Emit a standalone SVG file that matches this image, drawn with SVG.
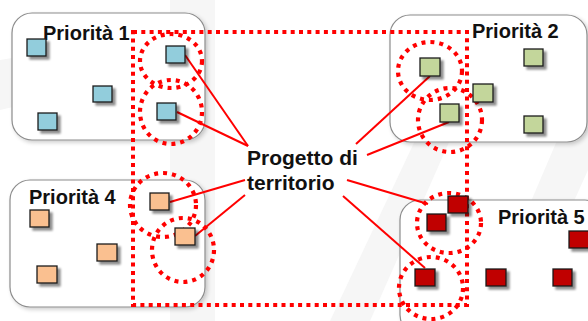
<svg xmlns="http://www.w3.org/2000/svg" width="588" height="321" viewBox="0 0 588 321">
<defs>
<filter id="sh" x="-30%" y="-30%" width="170%" height="170%">
<feGaussianBlur in="SourceAlpha" stdDeviation="1"/>
<feOffset dx="2.5" dy="2.5" result="o"/>
<feComponentTransfer><feFuncA type="linear" slope="0.45"/></feComponentTransfer>
<feMerge><feMergeNode/><feMergeNode in="SourceGraphic"/></feMerge>
</filter>
<filter id="bsh" x="-10%" y="-10%" width="120%" height="120%">
<feGaussianBlur in="SourceAlpha" stdDeviation="2"/>
<feOffset dx="1.5" dy="2" result="o"/>
<feComponentTransfer><feFuncA type="linear" slope="0.2"/></feComponentTransfer>
<feMerge><feMergeNode/><feMergeNode in="SourceGraphic"/></feMerge>
</filter>
</defs>
<style>
.box{fill:#ffffff;stroke:#8c8c8c;stroke-width:1.2}
.t{font-family:"Liberation Sans",Arial,sans-serif;font-weight:bold;font-size:20px;fill:#111}
.c{font-family:"Liberation Sans",Arial,sans-serif;font-weight:bold;font-size:21px;fill:#111}
.sq{stroke:#1a1a1a;stroke-width:1.3}
.b{fill:#92CDDC}.g{fill:#C3D69B}.o{fill:#FAC090}.r{fill:#C00000}
.dr{fill:none;stroke:#ff0000;stroke-width:4;stroke-dasharray:4 4.3}
.de{fill:none;stroke:#ff0000;stroke-width:4.2;stroke-dasharray:4 5}
.ln{stroke:#ff0000;stroke-width:2;fill:none}
</style>
<rect width="588" height="321" fill="#ffffff"/>
<g id="watermark" fill="#f6f6f6">
<polygon points="170,0 215,0 215,321 170,321"/>
<polygon points="0,60 120,40 130,80 0,110"/>
<polygon points="330,321 420,130 450,140 370,321"/>
<polygon points="480,321 570,110 588,120 588,170 520,321"/>
</g>
<g id="p1">
<rect class="box" x="12" y="13" width="193" height="127" rx="20" filter="url(#bsh)"/>
<text class="t" x="43" y="40">Priorità 1</text>
</g>
<g id="p2">
<rect class="box" x="390" y="15" width="197" height="127" rx="20" filter="url(#bsh)"/>
<text class="t" x="472" y="38">Priorità 2</text>
</g>
<g id="p4">
<rect class="box" x="10" y="180" width="195" height="127" rx="20" filter="url(#bsh)"/>
<text class="t" x="29" y="204">Priorità 4</text>
</g>
<g id="p5">
<rect class="box" x="400" y="200" width="205" height="135" rx="20" filter="url(#bsh)"/>
<text class="t" x="498" y="224">Priorità 5</text>
</g>
<g id="progetto">
<rect class="dr" x="133" y="32" width="334" height="273"/>
<ellipse class="de" cx="171" cy="61" rx="31" ry="27"/>
<ellipse class="de" cx="171" cy="112" rx="31" ry="32"/>
<ellipse class="de" cx="430" cy="71" rx="32" ry="29"/>
<ellipse class="de" cx="450" cy="120" rx="32" ry="32"/>
<ellipse class="de" cx="163" cy="205" rx="33" ry="32"/>
<ellipse class="de" cx="183" cy="250" rx="31" ry="32"/>
<ellipse class="de" cx="449" cy="223" rx="32" ry="30"/>
<ellipse class="de" cx="431" cy="288" rx="32" ry="31"/>
</g>
<g id="connectors">
<line class="ln" x1="248" y1="146" x2="185" y2="55"/>
<line class="ln" x1="248" y1="146" x2="177" y2="112"/>
<line class="ln" x1="356" y1="144" x2="430" y2="76"/>
<line class="ln" x1="367" y1="155" x2="449" y2="122"/>
<line class="ln" x1="245" y1="180" x2="170" y2="202"/>
<line class="ln" x1="245" y1="195" x2="195" y2="236"/>
<line class="ln" x1="347" y1="180" x2="428" y2="204"/>
<line class="ln" x1="343" y1="196" x2="425" y2="268"/>
</g>
<g id="squares" filter="url(#sh)">
<rect class="sq b" x="27" y="39" width="19" height="17"/>
<rect class="sq b" x="93" y="86" width="19" height="16"/>
<rect class="sq b" x="38" y="113" width="19" height="17"/>
<rect class="sq b" x="166" y="46" width="19" height="17"/>
<rect class="sq b" x="157" y="103" width="19" height="17"/>
<rect class="sq g" x="420" y="58" width="20" height="18"/>
<rect class="sq g" x="473" y="84" width="20" height="18"/>
<rect class="sq g" x="440" y="104" width="19" height="18"/>
<rect class="sq g" x="524" y="49" width="19" height="17"/>
<rect class="sq g" x="524" y="116" width="19" height="17"/>
<rect class="sq o" x="30" y="210" width="19" height="17"/>
<rect class="sq o" x="97" y="244" width="20" height="17"/>
<rect class="sq o" x="37" y="266" width="20" height="17"/>
<rect class="sq o" x="150" y="193" width="19" height="17"/>
<rect class="sq o" x="175" y="228" width="20" height="17"/>
<rect class="sq r" x="427" y="214" width="19" height="17"/>
<rect class="sq r" x="448" y="196" width="20" height="17"/>
<rect class="sq r" x="415" y="269" width="20" height="17"/>
<rect class="sq r" x="486" y="269" width="20" height="17"/>
<rect class="sq r" x="553" y="269" width="19" height="17"/>
<rect class="sq r" x="569" y="231" width="20" height="17"/>
</g>
<g id="label">
<text class="c" x="247" y="165">Progetto di</text>
<text class="c" x="247" y="190">territorio</text>
</g>
</svg>
